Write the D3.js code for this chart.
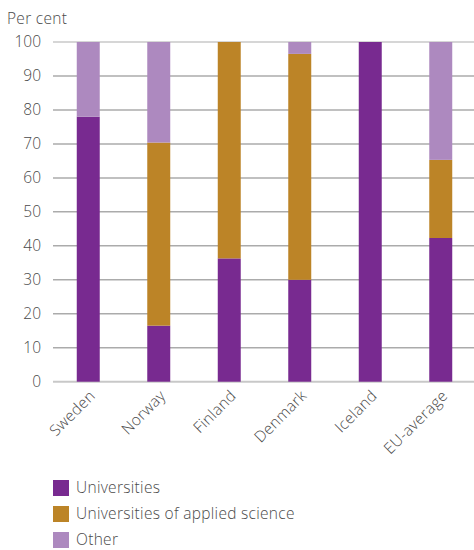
<!DOCTYPE html>
<html>
<head>
<meta charset="utf-8">
<script src="https://cdn.jsdelivr.net/npm/d3@7"></script>
<style>
  html, body { margin: 0; padding: 0; background: #fff; }
  svg text { font-family: "Open Sans", Lato, sans-serif; font-weight: 300; fill: #4a4a4a; }
</style>
</head>
<body>
<svg id="chart" width="474" height="550"></svg>
<script>
const countries = ["Sweden", "Norway", "Finland", "Denmark", "Iceland", "EU-average"];
const universities = [78, 16.5, 36.3, 30, 100, 42.3];
const appliedScience = [0, 53.9, 63.7, 66.5, 0, 23];
const other = [22, 29.6, 0, 3.5, 0, 34.7];
const seriesNames = ["Universities", "Universities of applied science", "Other"];
const seriesColors = ["#782a90", "#bc8427", "#ad89bf"];
const yTicks = [0, 10, 20, 30, 40, 50, 60, 70, 80, 90, 100];

const FONT = "'Open Sans', Lato, sans-serif";
const FS = 15.5;
const LS = "0.3px";

const rows = countries.map((c, i) => ({
  country: c,
  "Universities": universities[i],
  "Universities of applied science": appliedScience[i],
  "Other": other[i]
}));

const svg = d3.select("#chart");
const x = d3.scaleBand().domain(countries).range([53, 476]).paddingInner(0.674).paddingOuter(0.337);
const y = d3.scaleLinear().domain([0, 100]).range([381.7, 42]);
const color = d3.scaleOrdinal().domain(seriesNames).range(seriesColors);

// Gridlines and value labels
const grid = svg.append("g");
grid.selectAll("line").data(yTicks).join("line")
  .attr("x1", 53).attr("x2", 474)
  .attr("y1", d => y(d)).attr("y2", d => y(d))
  .attr("stroke", d => d === 0 || d === 100 ? "#c8c8c8" : "#ababab")
  .attr("stroke-width", d => d === 0 ? 2 : 1.5);

const yAxis = d3.axisLeft(y).tickValues(yTicks).tickSize(0).tickPadding(0);
svg.append("g").attr("transform", "translate(41,0)").call(yAxis)
  .call(g => g.select(".domain").remove())
  .call(g => g.selectAll("text").attr("font-size", FS).attr("fill", "#4a4a4a")
    .style("font-family", FONT).style("font-weight", 300));

svg.append("text").attr("x", 7).attr("y", 24).attr("font-size", FS)
  .style("letter-spacing", LS).text("Per cent");

// Stacked bars
const stack = d3.stack().keys(seriesNames)(rows);
svg.append("g").selectAll("g").data(stack).join("g")
  .attr("fill", d => color(d.key))
  .selectAll("rect").data(d => d.filter(p => p[1] - p[0] > 0)).join("rect")
  .attr("x", d => x(d.data.country))
  .attr("width", x.bandwidth())
  .attr("y", d => y(d[1]))
  .attr("height", d => y(d[0]) - y(d[1]));

// Category labels, rotated
const xAxis = d3.axisBottom(x).tickSize(0).tickPadding(0);
svg.append("g").attr("transform", "translate(0,392)").call(xAxis)
  .call(g => g.select(".domain").remove())
  .call(g => g.selectAll("text")
    .attr("text-anchor", "end").attr("dy", "0.35em").attr("y", 0)
    .attr("transform", "translate(4,1) rotate(-45)")
    .attr("font-size", FS).attr("fill", "#4a4a4a")
    .style("letter-spacing", LS)
    .style("font-family", FONT).style("font-weight", 300));

// Legend
const legend = svg.append("g").selectAll("g").data(seriesNames).join("g")
  .attr("transform", (d, i) => `translate(53,${480 + i * 26})`);
legend.append("rect").attr("width", 16).attr("height", 16).attr("fill", d => color(d));
legend.append("text").attr("x", 23).attr("y", 8).attr("dy", "0.35em")
  .attr("font-size", FS).style("letter-spacing", LS).text(d => d);
</script>
</body>
</html>
